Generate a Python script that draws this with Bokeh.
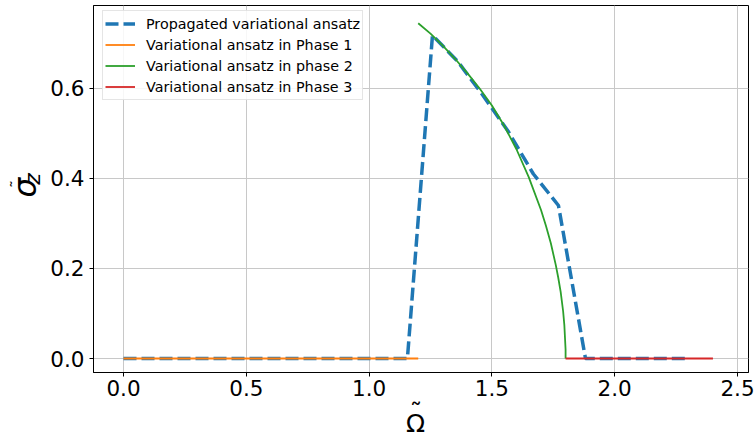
import math
from bokeh.plotting import figure
from bokeh.layouts import row, column
from bokeh.models import (Range1d, FixedTicker, PrintfTickFormatter, Legend,
                          LegendItem, Label)
from bokeh.embed import file_html
from bokeh.resources import INLINE

# ---------------- data ----------------
prop_x = [0.0, 1.156, 1.258, 1.361, 1.463, 1.566, 1.669, 1.771, 1.881, 2.296]
prop_y = [0.0, 0.0, 0.718, 0.660, 0.585, 0.505, 0.410, 0.340, 0.0, 0.0]

phase1_x = [0.0, 1.2]
phase1_y = [0.0, 0.0]

phase2_x = [1.20, 1.25, 1.30, 1.35, 1.40, 1.45, 1.50, 1.55, 1.60, 1.65,
            1.70, 1.72, 1.74, 1.76, 1.77, 1.78, 1.79, 1.795, 1.80, 1.80]
phase2_y = [0.745, 0.722, 0.695, 0.666, 0.634, 0.600, 0.562, 0.517, 0.465, 0.403,
            0.330, 0.295, 0.256, 0.208, 0.180, 0.148, 0.105, 0.074, 0.02, 0.0]

phase3_x = [1.8, 2.4]
phase3_y = [0.0, 0.0]

x_ticks = [0.0, 0.5, 1.0, 1.5, 2.0, 2.5]
y_ticks = [0.0, 0.2, 0.4, 0.6]

labels = ["Propagated variational ansatz", "Variational ansatz in Phase 1",
          "Variational ansatz in phase 2", "Variational ansatz in Phase 3"]

# ---------------- layout constants (pixels) ----------------
W, H = 756, 438
YLAB_W = 46          # strip on the left holding the y title
MAIN_W, MAIN_H = W - YLAB_W, 405
XLAB_H = 48          # strip at the bottom holding the x title
XLAB_OVERLAP = 15    # it is pulled up over the (transparent) tick-label area
X0, X1 = -0.1222, 2.5448
Y0, Y1 = -0.0311, 0.7844
FL, FR, FT, FB = 93, 748, 5, 372   # frame edges on the page

FONT = "DejaVu Sans"

p = figure(width=MAIN_W, height=MAIN_H, x_range=Range1d(X0, X1),
           y_range=Range1d(Y0, Y1), output_backend="svg", toolbar_location=None,
           min_border_left=FL - YLAB_W, min_border_right=W - FR,
           min_border_top=FT, min_border_bottom=MAIN_H - FB)
p.background_fill_color = "white"
p.border_fill_color = "white"
p.outline_line_color = "black"
p.outline_line_width = 1

p.xaxis.ticker = FixedTicker(ticks=x_ticks)
p.yaxis.ticker = FixedTicker(ticks=y_ticks)
p.xaxis.formatter = PrintfTickFormatter(format="%.1f")
p.yaxis.formatter = PrintfTickFormatter(format="%.1f")
for ax in (p.xaxis, p.yaxis):
    ax.major_label_text_font = FONT
    ax.major_label_text_font_size = "21.5px"
    ax.major_label_text_color = "black"
    ax.axis_line_color = "black"
    ax.major_tick_line_color = "black"
    ax.major_tick_in = 0
    ax.major_tick_out = 4
    ax.minor_tick_line_color = None
p.xaxis.major_label_standoff = 3
p.yaxis.major_label_standoff = 5

p.xgrid.grid_line_color = "#c8c8c8"
p.ygrid.grid_line_color = "#c8c8c8"
p.xgrid.grid_line_width = 1
p.ygrid.grid_line_width = 1

r0 = p.line(prop_x, prop_y, line_color="#1f77b4", line_width=3.5, line_dash="13 5")
r1 = p.line(phase1_x, phase1_y, line_color="#ff7f0e", line_width=1.8)
r2 = p.line(phase2_x, phase2_y, line_color="#2ca02c", line_width=1.8)
r3 = p.line(phase3_x, phase3_y, line_color="#d62728", line_width=1.8)

legend = Legend(items=[LegendItem(label=l, renderers=[r]) for l, r in
                       zip(labels, [r0, r1, r2, r3])],
                location=(9, 272))
legend.label_text_font = FONT
legend.label_text_font_size = "14.3px"
legend.label_text_color = "black"
legend.glyph_width = 30
legend.glyph_height = 21
legend.label_height = 21
legend.label_standoff = 11
legend.spacing = 0
legend.padding = 2
legend.margin = 0
legend.border_line_color = "#cccccc"
legend.border_line_width = 1
legend.background_fill_color = "white"
legend.background_fill_alpha = 0.85
p.add_layout(legend)


def strip(w, h, transparent=False):
    f = figure(width=w, height=h, x_range=Range1d(0, w), y_range=Range1d(0, h),
               x_axis_type=None, y_axis_type=None, output_backend="svg",
               toolbar_location=None, min_border=0)
    f.outline_line_color = None
    if transparent:
        f.background_fill_alpha = 0
        f.border_fill_alpha = 0
    else:
        f.background_fill_color = "white"
        f.border_fill_color = "white"
    return f


def title_part(fig, x, y, text, size, italic=False, angle=0.0):
    fig.add_layout(Label(x=x, y=y, text=text, text_font=FONT,
                         text_font_size=size,
                         text_font_style="italic" if italic else "normal",
                         text_align="center", text_baseline="middle",
                         angle=angle, text_color="black"))


# y title strip (page x, page y -> strip coords with y up)
ylab = strip(YLAB_W, MAIN_H)
title_part(ylab, 24, MAIN_H - 201, "σ", "31px", True, math.pi / 2)
title_part(ylab, 31.5, MAIN_H - 191.5, "z", "22px", True, math.pi / 2)
title_part(ylab, 16, MAIN_H - 197, "˜", "16px", False, math.pi / 2)

# x title strip, bottom edge on the page bottom
xlab = strip(W, XLAB_H, transparent=True)
xlab.styles = {"margin-top": f"-{XLAB_OVERLAP}px"}
title_part(xlab, 415, H - 423, "Ω", "25px")
title_part(xlab, 415.5, H - 412, "˜", "25px")

layout = column(row(ylab, p, spacing=0), xlab, spacing=0)
open("out.html", "w").write(file_html(layout, INLINE))
